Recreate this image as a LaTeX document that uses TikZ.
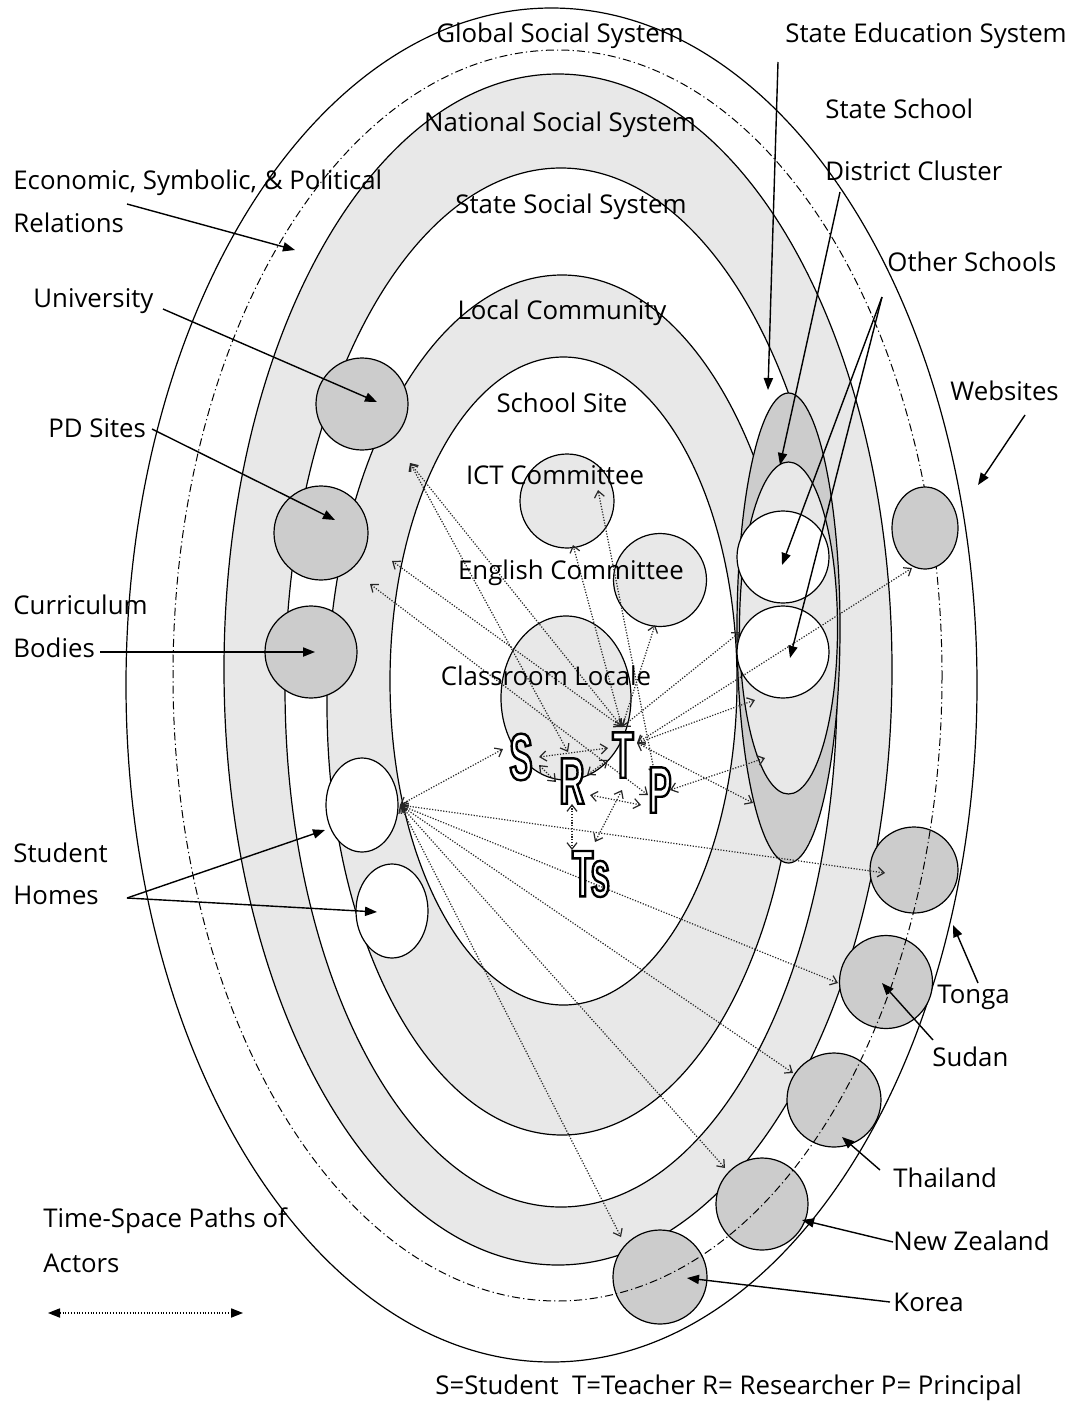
\documentclass[tikz,border=0pt]{standalone}
\usepackage{fontspec}
\setmainfont{Open Sans}
\newfontfamily\actorfont[FakeStretch=0.52]{Liberation Sans}
\usetikzlibrary{arrows.meta,calc}
\definecolor{bandgray}{gray}{0.91}
\definecolor{discgray}{gray}{0.80}
\tikzset{
  whiteshape/.style={draw=black,line width=0.6pt,fill=white},
  bandshape/.style={draw=black,line width=0.6pt,fill=bandgray},
  discshape/.style={draw=black,line width=0.6pt,fill=discgray},
  dashdotline/.style={draw=black,line width=0.5pt,dash pattern=on 4pt off 1.6pt on 0.6pt off 1.6pt},
  lbl/.style={font=\fontsize{12.9}{15}\selectfont,inner sep=0pt},
  lblarrow/.style={draw=black,line width=0.7pt,-{Triangle[length=6pt,width=4.6pt]}},
  tsp/.style={draw=black!85,line width=0.6pt,dash pattern=on 0.6pt off 0.8pt,
    {Straight Barb[length=3.2pt,width=5pt]}-{Straight Barb[length=3.2pt,width=5pt]}},
  legendarrow/.style={draw=black,line width=0.6pt,dash pattern=on 0.55pt off 0.85pt,
    {Triangle[length=6pt,width=4.6pt]}-{Triangle[length=6pt,width=4.6pt]}},
  actortext/.style={font=\actorfont\bfseries\fontsize{33}{33}\selectfont,inner sep=0pt,text=white},
}
\newcommand\outlined[1]{\special{pdf:literal direct 2 Tr 1.2 w 0 G}#1\special{pdf:literal direct 0 Tr}}
\begin{document}
\begin{tikzpicture}[x=0.5pt,y=-0.5pt]
\useasboundingbox (0,0) rectangle (1080,1403);
\fill[white] (0,0) rectangle (1080,1403);

% nested systems
\path[whiteshape] (551.5,685) ellipse [x radius=425.5,y radius=677];
\path[bandshape] (558,669.5) ellipse [x radius=334,y radius=595.5];
\path[whiteshape] (561,687.5) ellipse [x radius=276,y radius=519.5];
\path[bandshape] (562,705) ellipse [x radius=235,y radius=430];
\path[whiteshape] (563.5,681) ellipse [x radius=173.5,y radius=324];

% school site circles
\path[bandshape] (567,501) circle [radius=47];
\path[bandshape] (660,580) circle [radius=46.5];
\path[bandshape] (566,698) ellipse [x radius=65,y radius=82];

% state education system
\path[discshape] (788.5,628) ellipse [x radius=51.5,y radius=235];
\path[bandshape] (788.5,628) ellipse [x radius=49,y radius=166];
\path[whiteshape] (783,557) circle [radius=46];
\path[whiteshape] (783,652) circle [radius=46];

% left discs
\path[discshape] (362,404) circle [radius=46];
\path[discshape] (321,533) circle [radius=47];
\path[discshape] (311,652) circle [radius=46];
\path[whiteshape] (362,805) ellipse [x radius=36,y radius=47];
\path[whiteshape] (392,911) ellipse [x radius=36,y radius=47];

% countries
\path[discshape] (914,870) ellipse [x radius=44,y radius=43];
\path[discshape] (886,982) circle [radius=46.5];
\path[discshape] (834,1100) circle [radius=47];
\path[discshape] (762,1204) circle [radius=46];
\path[discshape] (660,1277) circle [radius=47];

% relations ring
\path[dashdotline] (557.5,675.5) ellipse [x radius=384.5,y radius=625.5];
\path[discshape] (925,528) ellipse [x radius=33,y radius=41];

% coordinates for the time-space paths
\coordinate (Ttop) at (622,727);
\coordinate (Tright) at (637,743);
\coordinate (Rtop) at (568,752);
\coordinate (Pleft) at (648,795);
\coordinate (Ptop) at (655,775);
\coordinate (Pright) at (670,790);
\coordinate (hub) at (400,805);
\coordinate (uA) at (410,463);
\coordinate (uB) at (392,561);
\coordinate (uC) at (370,584);
\coordinate (ictA) at (573,545);
\coordinate (ictB) at (598,490);
\coordinate (engA) at (655,625);
\coordinate (sedA) at (740,632);
\coordinate (sedB) at (755,700);
\coordinate (sedC) at (765,758);
\coordinate (sedD) at (753,803);
\coordinate (web) at (912,568);
\coordinate (tongaP) at (885,873);
\coordinate (sudanP) at (838,983);
\coordinate (thaiP) at (793,1073);
\coordinate (nzP) at (725,1168);
\coordinate (koreaP) at (621,1237);
\coordinate (Sl) at (503,749);
\coordinate (Sr) at (539,757);
\coordinate (Sb) at (539,765);
\coordinate (TlA) at (608,748);
\coordinate (TlB) at (608,760);
\coordinate (Rl) at (556,782);
\coordinate (Rr) at (587,775);
\coordinate (Rb) at (590,795);
\coordinate (Rbot) at (572,804);
\coordinate (Pl) at (641,805);
\coordinate (Tbot) at (622,790);
\coordinate (TsA) at (572,850);
\coordinate (TsB) at (595,842);

% time-space paths
\draw[tsp] (Ttop) -- (uA);
\draw[tsp] (Rtop) -- (uA);
\draw[tsp] (Ttop) -- (uB);
\draw[tsp] (Pleft) -- (uC);
\draw[tsp] (Ttop) -- (ictA);
\draw[tsp] (Ptop) -- (ictB);
\draw[tsp] (Ttop) -- (engA);
\draw[tsp] (Ttop) -- (sedA);
\draw[tsp] (Tright) -- (web);
\draw[tsp] (Tright) -- (sedB);
\draw[tsp] (Pright) -- (sedC);
\draw[tsp] (Tright) -- (sedD);
\draw[tsp] (hub) -- (Sl);
\draw[tsp] (hub) -- (tongaP);
\draw[tsp] (hub) -- (sudanP);
\draw[tsp] (hub) -- (thaiP);
\draw[tsp] (hub) -- (nzP);
\draw[tsp] (hub) -- (koreaP);
\draw[tsp] (Sr) -- (TlA);
\draw[tsp] (Sb) -- (Rl);
\draw[tsp] (Rr) -- (TlB);
\draw[tsp] (Rb) -- (Pl);
\draw[tsp] (Rbot) -- (TsA);
\draw[tsp] (Tbot) -- (TsB);

% actors
\node[actortext] (S) at (521,757) {\outlined{S}};
\node[actortext] (R) at (572,781) {\outlined{R}};
\node[actortext] (T) at (623,755) {\outlined{T}};
\node[actortext] (P) at (660,790) {\outlined{P}};
\node[actortext] (Ts) at (591,874) {\outlined{Ts}};

% labels inside
\node[lbl,anchor=base] (global) at (560,42) {Global Social System};
\node[lbl,anchor=base] (national) at (560,131) {National Social System};
\node[lbl,anchor=base] (statess) at (571,213) {State Social System};
\node[lbl,anchor=base] (local) at (562,319) {Local Community};
\node[lbl,anchor=base] (schoolsite) at (562,412) {School Site};
\node[lbl,anchor=base] (ict) at (555,484) {ICT Committee};
\node[lbl,anchor=base] (english) at (571,579) {English Committee};
\node[lbl,anchor=base] (classroom) at (546,685) {Classroom Locale};

% labels right
\node[lbl,anchor=base west] (sedlbl) at (785,42) {State Education System};
\node[lbl,anchor=base west] (sslbl) at (825,118) {State School};
\node[lbl,anchor=base west] (dclbl) at (825,180) {District Cluster};
\node[lbl,anchor=base west] (oslbl) at (887,271) {Other Schools};
\node[lbl,anchor=base west] (weblbl) at (950,400) {Websites};
\node[lbl,anchor=base west] (tongalbl) at (937,1003) {Tonga};
\node[lbl,anchor=base west] (sudanlbl) at (932,1066) {Sudan};
\node[lbl,anchor=base west] (thailbl) at (893,1187) {Thailand};
\node[lbl,anchor=base west] (nzlbl) at (893,1250) {New Zealand};
\node[lbl,anchor=base west] (korealbl) at (893,1311) {Korea};

% labels left
\node[lbl,anchor=base west] (econlbl) at (13,189) {Economic, Symbolic, \& Political};
\node[lbl,anchor=base west] (rellbl) at (13,232) {Relations};
\node[lbl,anchor=base west] (unilbl) at (33,307) {University};
\node[lbl,anchor=base west] (pdlbl) at (48,437) {PD Sites};
\node[lbl,anchor=base west] (curlbl) at (13,614) {Curriculum};
\node[lbl,anchor=base west] (bodlbl) at (13,657) {Bodies};
\node[lbl,anchor=base west] (stulbl) at (13,862) {Student};
\node[lbl,anchor=base west] (homlbl) at (13,904) {Homes};
\node[lbl,anchor=base west] (tslbl) at (43,1227) {Time-Space Paths of};
\node[lbl,anchor=base west] (actlbl) at (43,1272) {Actors};
\node[lbl,anchor=base west] (keylbl) at (435,1394) {S=Student\ \ T=Teacher R= Researcher P= Principal};

% label pointers
\coordinate (econS) at (127,204);   \coordinate (econE) at (295,250);
\coordinate (uniS) at (163,309);    \coordinate (uniE) at (377,402);
\coordinate (pdS) at (152,429);     \coordinate (pdE) at (335,520);
\coordinate (curS) at (100,652);    \coordinate (curE) at (315,652);
\coordinate (homS) at (127,898);    \coordinate (homE1) at (325,830);
\coordinate (homE2) at (377,912);
\coordinate (sedS) at (778,62);     \coordinate (sedE) at (768,390);
\coordinate (dcS) at (840,192);     \coordinate (dcE) at (780,465);
\coordinate (osS) at (882,297);     \coordinate (osE1) at (782,565);
\coordinate (osE2) at (790,658);
\coordinate (webS) at (1025,415);   \coordinate (webE) at (978,485);
\coordinate (tongaS) at (978,983);  \coordinate (tongaE) at (953,925);
\coordinate (sudanS) at (933,1040); \coordinate (sudanE) at (882,983);
\coordinate (thaiS) at (880,1170);  \coordinate (thaiE) at (842,1137);
\coordinate (nzS) at (893,1242);    \coordinate (nzE) at (802,1220);
\coordinate (koreaS) at (890,1302); \coordinate (koreaE) at (687,1278);
\coordinate (legA) at (48,1313);    \coordinate (legB) at (243,1313);

\draw[lblarrow] (econS) -- (econE);
\draw[lblarrow] (uniS) -- (uniE);
\draw[lblarrow] (pdS) -- (pdE);
\draw[lblarrow] (curS) -- (curE);
\draw[lblarrow] (homS) -- (homE1);
\draw[lblarrow] (homS) -- (homE2);
\draw[lblarrow] (sedS) -- (sedE);
\draw[lblarrow] (dcS) -- (dcE);
\draw[lblarrow] (osS) -- (osE1);
\draw[lblarrow] (osS) -- (osE2);
\draw[lblarrow] (webS) -- (webE);
\draw[lblarrow] (tongaS) -- (tongaE);
\draw[lblarrow] (sudanS) -- (sudanE);
\draw[lblarrow] (thaiS) -- (thaiE);
\draw[lblarrow] (nzS) -- (nzE);
\draw[lblarrow] (koreaS) -- (koreaE);
\draw[legendarrow] (legA) -- (legB);
\end{tikzpicture}
\end{document}
